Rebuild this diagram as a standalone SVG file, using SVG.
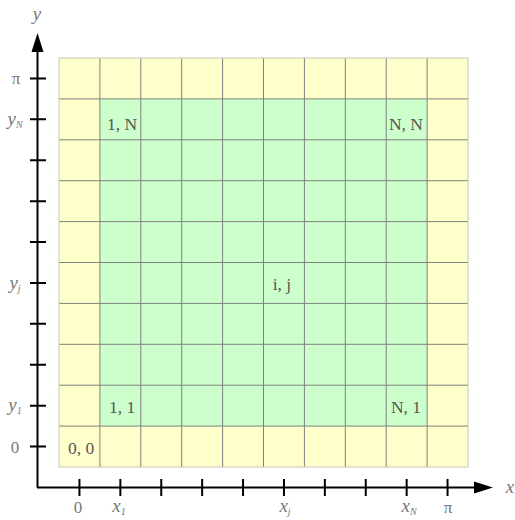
<svg xmlns="http://www.w3.org/2000/svg" width="515" height="520" viewBox="0 0 515 520">
<style>
.lbl{font-family:"Liberation Serif","DejaVu Serif",serif;font-size:17.5px;fill:#555;text-anchor:middle}
.ax{font-family:"Liberation Serif","DejaVu Serif",serif;font-size:19px;fill:#777;font-style:italic;text-anchor:middle}
.axn{font-family:"Liberation Serif","DejaVu Serif",serif;font-size:17px;fill:#777;text-anchor:middle}
.sub{font-size:10px}
.grid{stroke:#808080;stroke-width:1;fill:none}
.axis{stroke:#000;stroke-width:2;fill:none}
</style>
<g id="grid-cells">
<rect x="59" y="58" width="409" height="409" fill="#ffffcc"/>
<rect x="99.9" y="98.9" width="327.2" height="327.2" fill="#ccffcc"/>
<path class="grid" d="M99.9,58V467M140.8,58V467M181.7,58V467M222.6,58V467M263.5,58V467M304.4,58V467M345.3,58V467M386.2,58V467M427.1,58V467M59,98.9H468M59,139.8H468M59,180.7H468M59,221.6H468M59,262.5H468M59,303.4H468M59,344.3H468M59,385.2H468M59,426.1H468"/>
<rect x="59" y="58" width="409" height="409" fill="none" stroke="#c8c8b8" stroke-width="1"/>
</g>
<g id="connectors">
<path class="axis" d="M37.5,487.5V45"/>
<path d="M37.5,33 L43.5,52 L31.5,52 z" fill="#000"/>
<path class="axis" d="M37,487.5H476"/>
<path d="M493,487.5 L474,481.5 L474,493.5 z" fill="#000"/>
<path class="axis" d="M30,78.45H46M30,119.35H46M30,160.25H46M30,201.15H46M30,242.05H46M30,282.95H46M30,323.85H46M30,364.75H46M30,405.65H46M30,446.55H46"/>
<path class="axis" d="M79.45,479V496M120.35,479V496M161.25,479V496M202.15,479V496M243.05,479V496M283.95,479V496M324.85,479V496M365.75,479V496M406.65,479V496M447.55,479V496"/>
</g>
<g id="axis-labels">
<text class="ax" x="37" y="20">y</text>
<text class="ax" x="510" y="493">x</text>
<text class="axn" x="16" y="84">π</text>
<text class="ax" x="15" y="125">y<tspan class="sub" dy="3">N</tspan></text>
<text class="ax" x="15" y="289">y<tspan class="sub" dy="3">j</tspan></text>
<text class="ax" x="15" y="411">y<tspan class="sub" dy="3">1</tspan></text>
<text class="axn" x="15" y="453">0</text>
<text class="axn" x="78" y="513">0</text>
<text class="ax" x="119" y="512">x<tspan class="sub" dy="3">1</tspan></text>
<text class="ax" x="285" y="512">x<tspan class="sub" dy="3">j</tspan></text>
<text class="ax" x="409" y="512">x<tspan class="sub" dy="3">N</tspan></text>
<text class="axn" x="448" y="513">π</text>
</g>
<g id="node-1N"><text class="lbl" x="122" y="130">1, N</text></g>
<g id="node-NN"><text class="lbl" x="406" y="130">N, N</text></g>
<g id="node-ij"><text class="lbl" x="282" y="290">i, j</text></g>
<g id="node-11"><text class="lbl" x="122" y="413">1, 1</text></g>
<g id="node-N1"><text class="lbl" x="406" y="413">N, 1</text></g>
<g id="node-00"><text class="lbl" x="81" y="454">0, 0</text></g>
</svg>
